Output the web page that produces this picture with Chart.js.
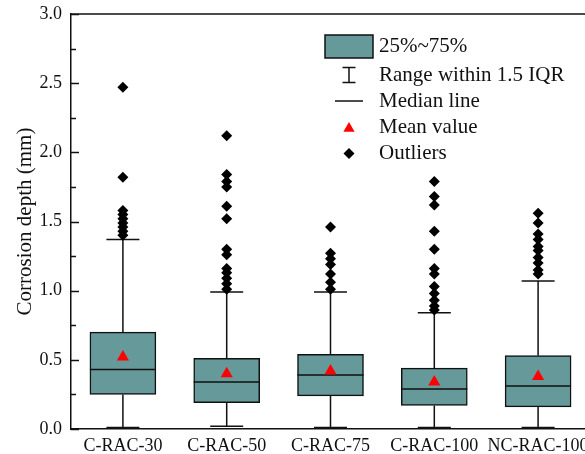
<!DOCTYPE html>
<html>
<head>
<meta charset="utf-8">
<title>Corrosion depth box plot</title>
<script src="https://cdn.jsdelivr.net/npm/chart.js@4.4.1/dist/chart.umd.min.js"></script>
<style>
  html, body { margin: 0; padding: 0; background: #fff; overflow: hidden; }
  #wrap { width: 600px; height: 454px; }
  #boxChart { display: block; width: 600px; height: 454px; }
</style>
</head>
<body>
<div id="wrap"><canvas id="boxChart" width="600" height="454"></canvas></div>
<script>
const categories = ['C-RAC-30', 'C-RAC-50', 'C-RAC-75', 'C-RAC-100', 'NC-RAC-100'];
const q1 = [0.25, 0.19, 0.24, 0.17, 0.16];
const median = [0.43, 0.34, 0.39, 0.29, 0.31];
const q3 = [0.70, 0.51, 0.54, 0.44, 0.53];
const whiskerLow = [0.01, 0.02, 0.01, 0.01, 0.01];
const whiskerHigh = [1.37, 0.99, 0.99, 0.84, 1.07];
const means = [0.52, 0.40, 0.42, 0.34, 0.38];
const outliers = [
  [2.47, 1.82, 1.58, 1.55, 1.52, 1.49, 1.46, 1.43, 1.40],
  [2.12, 1.84, 1.79, 1.75, 1.61, 1.52, 1.30, 1.26, 1.16, 1.13, 1.09, 1.05, 1.01],
  [1.46, 1.27, 1.23, 1.19, 1.12, 1.06, 1.01],
  [1.79, 1.68, 1.62, 1.43, 1.30, 1.16, 1.12, 1.03, 0.98, 0.93, 0.89, 0.86],
  [1.56, 1.49, 1.41, 1.37, 1.32, 1.29, 1.24, 1.20, 1.15, 1.12]
];
const yTicks = [0, 0.5, 1.0, 1.5, 2.0, 2.5, 3.0];
const legendLabels = ['25%~75%', 'Range within 1.5 IQR', 'Median line', 'Mean value', 'Outliers'];

const serif = '"Liberation Serif", "Times New Roman", serif';
const ink = '#111';
const boxFill = '#669999';

const outlierPoints = [];
outliers.forEach((list, i) => list.forEach(v => outlierPoints.push({ x: categories[i], y: v })));

// whiskers, caps and median line for every box
const boxParts = {
  id: 'boxParts',
  afterDatasetDraw(chart, args) {
    if (args.index !== 0) return;
    const ctx = chart.ctx, y = chart.scales.y;
    ctx.save();
    ctx.strokeStyle = ink;
    ctx.lineWidth = 1.5;
    chart.getDatasetMeta(0).data.forEach((bar, i) => {
      const cx = bar.x, half = bar.width / 2, cap = half / 2;
      const yHi = y.getPixelForValue(whiskerHigh[i]);
      const yLo = y.getPixelForValue(whiskerLow[i]);
      const yQ3 = y.getPixelForValue(q3[i]);
      const yQ1 = y.getPixelForValue(q1[i]);
      const yMed = y.getPixelForValue(median[i]);
      ctx.beginPath();
      ctx.moveTo(cx, yQ3); ctx.lineTo(cx, yHi);
      ctx.moveTo(cx - cap, yHi); ctx.lineTo(cx + cap, yHi);
      ctx.moveTo(cx, yQ1); ctx.lineTo(cx, yLo);
      ctx.moveTo(cx - cap, yLo); ctx.lineTo(cx + cap, yLo);
      ctx.moveTo(cx - half, yMed); ctx.lineTo(cx + half, yMed);
      ctx.stroke();
    });
    ctx.restore();
  }
};

// top frame line and inward ticks on the y axis (minor ticks every 0.25)
const frameTicks = {
  id: 'frameTicks',
  afterDraw(chart) {
    const ctx = chart.ctx, a = chart.chartArea, y = chart.scales.y;
    ctx.save();
    ctx.strokeStyle = ink;
    ctx.lineWidth = 1.5;
    ctx.beginPath();
    ctx.moveTo(a.left, a.top); ctx.lineTo(a.right, a.top);
    for (let v = 0; v <= 3.0001; v += 0.25) {
      const py = Math.round(y.getPixelForValue(v)) + 0.5;
      const len = Math.abs(v * 2 - Math.round(v * 2)) < 1e-6 ? 8 : 5;
      ctx.moveTo(a.left, py); ctx.lineTo(a.left + len, py);
    }
    ctx.stroke();
    ctx.restore();
  }
};

// legend with box-plot symbols
const boxLegend = {
  id: 'boxLegend',
  afterDraw(chart) {
    const ctx = chart.ctx;
    const sx = 349, tx = 379, rows = [46.5, 75, 101, 127, 153.5];
    ctx.save();
    ctx.strokeStyle = ink;
    ctx.lineWidth = 1.5;
    ctx.fillStyle = boxFill;
    ctx.fillRect(325, 35, 48, 23);
    ctx.strokeRect(325, 35, 48, 23);
    ctx.beginPath();
    ctx.moveTo(sx, rows[1] - 7.5); ctx.lineTo(sx, rows[1] + 7.5);
    ctx.moveTo(sx - 6.5, rows[1] - 7.5); ctx.lineTo(sx + 6.5, rows[1] - 7.5);
    ctx.moveTo(sx - 6.5, rows[1] + 7.5); ctx.lineTo(sx + 6.5, rows[1] + 7.5);
    ctx.moveTo(sx - 14, rows[2]); ctx.lineTo(sx + 14, rows[2]);
    ctx.stroke();
    ctx.fillStyle = '#ff0000';
    Chart.helpers.drawPoint(ctx, { pointStyle: 'triangle', radius: 6.5, rotation: 0, borderWidth: 0 }, sx, rows[3] + 1.5);
    ctx.fillStyle = '#000';
    Chart.helpers.drawPoint(ctx, { pointStyle: 'rectRot', radius: 5.5, rotation: 0, borderWidth: 0 }, sx, rows[4]);
    ctx.fillStyle = ink;
    ctx.font = '21px ' + serif;
    ctx.textBaseline = 'middle';
    ctx.textAlign = 'left';
    legendLabels.forEach((t, i) => ctx.fillText(t, tx, rows[i]));
    ctx.restore();
  }
};

new Chart(document.getElementById('boxChart'), {
  data: {
    labels: categories,
    datasets: [
      {
        type: 'bar',
        data: categories.map((c, i) => [q1[i], q3[i]]),
        backgroundColor: boxFill,
        borderColor: ink,
        borderWidth: 1.5,
        borderSkipped: false,
        barThickness: 66,
        order: 2
      },
      {
        type: 'line',
        data: outlierPoints,
        showLine: false,
        pointStyle: 'rectRot',
        pointRadius: 5.5,
        backgroundColor: '#000',
        borderColor: '#000',
        borderWidth: 0,
        order: 1
      },
      {
        type: 'line',
        data: means,
        showLine: false,
        pointStyle: 'triangle',
        pointRadius: 7,
        backgroundColor: '#ff0000',
        borderColor: '#ff0000',
        borderWidth: 0,
        order: 0
      }
    ]
  },
  options: {
    responsive: false,
    animation: false,
    layout: { padding: { top: 14, right: 10, bottom: 0, left: 0 } },
    plugins: {
      legend: { display: false },
      tooltip: { enabled: false }
    },
    scales: {
      x: {
        type: 'category',
        offset: true,
        // invisible tick marks only push the labels down
        grid: { display: true, drawOnChartArea: false, drawTicks: true, tickLength: 6, tickColor: 'rgba(0,0,0,0)' },
        border: { display: true, color: ink, width: 1.5 },
        ticks: { color: ink, padding: 0, maxRotation: 0, autoSkip: false, font: { family: serif, size: 18 } },
        afterFit(s) { s.height = 25; s.paddingLeft = 0; s.paddingRight = 0; }
      },
      y: {
        min: 0,
        max: 3,
        afterBuildTicks(s) { s.ticks = yTicks.map(v => ({ value: v })); },
        grid: { display: false, drawTicks: false },
        border: { display: true, color: ink, width: 1.5 },
        ticks: { color: ink, padding: 9, callback: v => v.toFixed(1), font: { family: serif, size: 18 } },
        title: {
          display: true,
          text: 'Corrosion depth (mm)',
          color: ink,
          padding: { top: 13, bottom: 0 },
          font: { family: serif, size: 21 }
        },
        afterFit(s) { s.width = 71; s.paddingTop = 0; s.paddingBottom = 0; }
      }
    }
  },
  plugins: [boxParts, frameTicks, boxLegend]
});
</script>
</body>
</html>
